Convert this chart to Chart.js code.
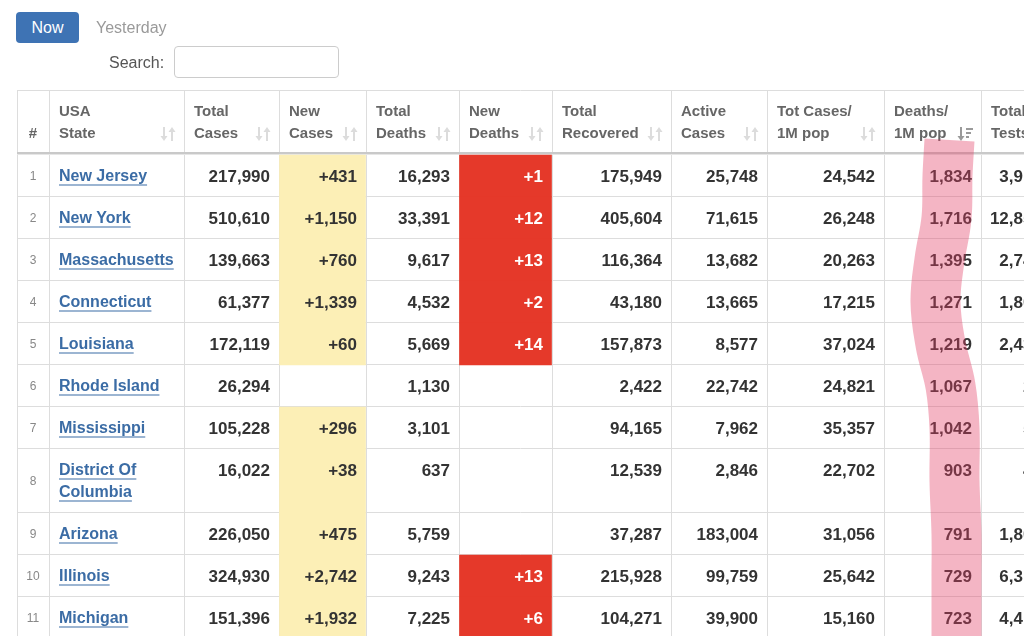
<!DOCTYPE html>
<html>
<head>
<meta charset="utf-8">
<script src="https://cdn.jsdelivr.net/npm/chart.js@4.4.1/dist/chart.umd.min.js"></script>
<style>
  body { margin: 0; background: #fff; font-family: "Liberation Sans", Arial, sans-serif; overflow: hidden; }
  #chart { position: absolute; left: 0; top: 0; }
  .now { position: absolute; left: 16px; top: 12px; width: 63px; height: 31px; line-height: 31px; background: #3e73b4; color: #fff; border-radius: 4px; font-size: 16px; text-align: center; }
  .yesterday { position: absolute; left: 96px; top: 12px; line-height: 31px; color: #9a9a9a; font-size: 16px; }
  .search { position: absolute; left: 109px; top: 47px; line-height: 31px; color: #555; font-size: 16px; }
  .box { position: absolute; left: 174px; top: 46px; width: 163px; height: 30px; border: 1px solid #ccc; border-radius: 4px; }
</style>
</head>
<body>
<canvas id="chart" width="1024" height="636"></canvas>
<div class="now">Now</div>
<div class="yesterday">Yesterday</div>
<div class="search">Search:</div>
<div class="box"></div>
<script>
// table data
const headers = [['#'], ['USA', 'State'], ['Total', 'Cases'], ['New', 'Cases'], ['Total', 'Deaths'], ['New', 'Deaths'],
  ['Total', 'Recovered'], ['Active', 'Cases'], ['Tot Cases/', '1M pop'], ['Deaths/', '1M pop'], ['Total', 'Tests']];
const rank = [1, 2, 3, 4, 5, 6, 7, 8, 9, 10, 11];
const states = ['New Jersey', 'New York', 'Massachusetts', 'Connecticut', 'Louisiana', 'Rhode Island',
  'Mississippi', 'District Of Columbia', 'Arizona', 'Illinois', 'Michigan'];
const totalCases = [217990, 510610, 139663, 61377, 172119, 26294, 105228, 16022, 226050, 324930, 151396];
const newCases = [431, 1150, 760, 1339, 60, null, 296, 38, 475, 2742, 1932];
const totalDeaths = [16293, 33391, 9617, 4532, 5669, 1130, 3101, 637, 5759, 9243, 7225];
const newDeaths = [1, 12, 13, 2, 14, null, null, null, null, 13, 6];
const totalRecovered = [175949, 405604, 116364, 43180, 157873, 2422, 94165, 12539, 37287, 215928, 104271];
const activeCases = [25748, 71615, 13682, 13665, 8577, 22742, 7962, 2846, 183004, 99759, 39900];
const casesPerMillion = [24542, 26248, 20263, 17215, 37024, 24821, 35357, 22702, 31056, 25642, 15160];
const deathsPerMillion = [1834, 1716, 1395, 1271, 1219, 1067, 1042, 903, 791, 729, 723];
// last column is cut off by the screen edge, only the first digits are readable
const totalTests = [3912437, 12857519, 2740106, 1803395, 2436927, 28457, 59470, 47820, 1803221, 6312854, 4418090];

// layout
const W = 1024, H = 636;
const colEdges = [17, 49, 184, 279, 366, 459, 552, 671, 767, 884, 981, 1084];
const tableTop = 90, headerBottom = 152, bodyTop = 155;
const rowBase = 42, lineStep = 22;
const yellow = '#fcefb6', red = '#e5392a';
// hand drawn marker stroke along the sorted column (offset from column centre per row)
const markCol = 9;
const markDrift = [15, 14, 7, 3, 8, 18, 22, 22, 24, 24, 24];

const columns = [
  { values: rank, kind: 'rank' },
  { values: states, kind: 'state' },
  { values: totalCases },
  { values: newCases, plus: true, fill: yellow },
  { values: totalDeaths },
  { values: newDeaths, plus: true, fill: red, color: '#fff' },
  { values: totalRecovered },
  { values: activeCases },
  { values: casesPerMillion },
  { values: deathsPerMillion },
  { values: totalTests }
];

const numFont = 'bold 17px "Liberation Sans", Arial, sans-serif';
const stateFont = 'bold 16px "Liberation Sans", Arial, sans-serif';
const headFont = 'bold 15px "Liberation Sans", Arial, sans-serif';
const rankFont = '12px "Liberation Sans", Arial, sans-serif';

// wrap state names to the column width -> row heights
const measure = document.createElement('canvas').getContext('2d');
measure.font = stateFont;
const stateLines = states.map(s => {
  const avail = colEdges[2] - colEdges[1] - 12;
  const words = s.split(' ');
  const lines = [];
  let cur = '';
  words.forEach(w => {
    const t = cur ? cur + ' ' + w : w;
    if (cur && measure.measureText(t).width > avail) { lines.push(cur); cur = w; } else cur = t;
  });
  lines.push(cur);
  return lines;
});
const rowTop = [];
const rowBottom = [];
let yy = bodyTop;
stateLines.forEach(l => {
  rowTop.push(yy);
  yy += rowBase + lineStep * (l.length - 1);
  rowBottom.push(yy);
});

const colCenter = j => (colEdges[j] + colEdges[j + 1]) / 2;
const colWidth = j => colEdges[j + 1] - colEdges[j];

function cellBars(j) {
  const c = columns[j];
  return c.values.map((v, i) => v == null ? null : { x: colCenter(j), y: [rowTop[i], rowBottom[i]] }).filter(d => d);
}

const markPoints = [{ x: colCenter(markCol) + 17, y: headerBottom - 12 }];
rank.forEach((r, i) => {
  markPoints.push({ x: colCenter(markCol) + markDrift[i], y: (rowTop[i] + rowBottom[i]) / 2 });
});
markPoints.push({ x: colCenter(markCol) + markDrift[markDrift.length - 1], y: H + 30 });

const tablePlugin = {
  id: 'tablePlugin',
  beforeDatasetsDraw(chart) {
    const ctx = chart.ctx;
    const xs = chart.scales.x, ys = chart.scales.y;
    ctx.save();
    ctx.strokeStyle = '#dddddd';
    ctx.lineWidth = 1;
    // outer top border
    ctx.beginPath();
    ctx.moveTo(xs.getPixelForValue(colEdges[0]), ys.getPixelForValue(tableTop) + 0.5);
    ctx.lineTo(xs.getPixelForValue(W), ys.getPixelForValue(tableTop) + 0.5);
    ctx.stroke();
    // vertical borders
    colEdges.forEach(e => {
      const x = Math.round(xs.getPixelForValue(e)) + 0.5;
      ctx.beginPath();
      ctx.moveTo(x, ys.getPixelForValue(tableTop));
      ctx.lineTo(x, ys.getPixelForValue(H));
      ctx.stroke();
    });
    // row borders
    rowBottom.forEach(b => {
      const y = Math.round(ys.getPixelForValue(b)) - 0.5;
      ctx.beginPath();
      ctx.moveTo(xs.getPixelForValue(colEdges[0]), y);
      ctx.lineTo(xs.getPixelForValue(W), y);
      ctx.stroke();
    });
    // header bottom rule
    const hx = xs.getPixelForValue(colEdges[0]);
    ctx.fillStyle = '#c9c9c9';
    ctx.fillRect(hx, ys.getPixelForValue(headerBottom), W - hx, 2);
    ctx.fillStyle = '#e6e6e6';
    ctx.fillRect(hx, ys.getPixelForValue(headerBottom + 2), W - hx, 1);
    ctx.restore();
  },
  beforeDatasetDraw(chart, args) {
    if (args.meta.type !== 'line') return;
    const ctx = chart.ctx;
    const xs = chart.scales.x, ys = chart.scales.y;
    ctx.save();
    ctx.textBaseline = 'middle';
    // headers
    ctx.font = headFont;
    ctx.fillStyle = '#666';
    headers.forEach((h, j) => {
      h.forEach((t, k) => {
        const line = k + (2 - h.length);
        const y = ys.getPixelForValue(tableTop + 22 + line * lineStep);
        if (j === 0) {
          ctx.textAlign = 'center';
          ctx.fillText(t, xs.getPixelForValue(colCenter(0)), y);
        } else {
          ctx.textAlign = 'left';
          ctx.fillText(t, xs.getPixelForValue(colEdges[j] + 10), y);
        }
      });
      if (j > 0) drawSortIcon(ctx, xs.getPixelForValue(colEdges[j + 1] - 16), ys.getPixelForValue(tableTop + 44), j === markCol);
    });
    // body cells
    columns.forEach((c, j) => {
      c.values.forEach((v, i) => {
        if (v == null) return;
        const yFirst = ys.getPixelForValue(rowTop[i] + 22);
        if (c.kind === 'rank') {
          ctx.font = rankFont;
          ctx.fillStyle = '#888';
          ctx.textAlign = 'center';
          ctx.fillText(String(v), xs.getPixelForValue(colCenter(j)), ys.getPixelForValue((rowTop[i] + rowBottom[i]) / 2 + 1));
        } else if (c.kind === 'state') {
          ctx.font = stateFont;
          ctx.fillStyle = '#3b6ca5';
          ctx.strokeStyle = '#3b6ca5';
          ctx.lineWidth = 1.2;
          ctx.textAlign = 'left';
          stateLines[i].forEach((t, k) => {
            const x = xs.getPixelForValue(colEdges[j] + 10);
            const y = yFirst + k * lineStep;
            ctx.fillText(t, x, y);
            const w = ctx.measureText(t).width;
            ctx.beginPath();
            ctx.moveTo(x, y + 8);
            ctx.lineTo(x + w, y + 8);
            ctx.stroke();
          });
        } else {
          ctx.font = numFont;
          ctx.fillStyle = c.color || '#333';
          ctx.textAlign = 'right';
          const txt = (c.plus ? '+' : '') + v.toLocaleString('en-US');
          ctx.fillText(txt, xs.getPixelForValue(colEdges[j + 1] - 9), yFirst);
        }
      });
    });
    ctx.restore();
  }
};

function drawSortIcon(ctx, cx, cy, active) {
  ctx.save();
  ctx.lineWidth = 2;
  ctx.strokeStyle = active ? '#9a9a9a' : '#dcdcdc';
  ctx.fillStyle = ctx.strokeStyle;
  // down arrow
  ctx.beginPath();
  ctx.moveTo(cx - 4, cy - 7);
  ctx.lineTo(cx - 4, cy + 3);
  ctx.stroke();
  ctx.beginPath();
  ctx.moveTo(cx - 7.5, cy + 2);
  ctx.lineTo(cx - 0.5, cy + 2);
  ctx.lineTo(cx - 4, cy + 7);
  ctx.closePath();
  ctx.fill();
  if (active) {
    ctx.fillRect(cx + 1, cy - 6, 7, 2);
    ctx.fillRect(cx + 1, cy - 2, 5, 2);
    ctx.fillRect(cx + 1, cy + 2, 3, 2);
  } else {
    ctx.beginPath();
    ctx.moveTo(cx + 4, cy + 7);
    ctx.lineTo(cx + 4, cy - 3);
    ctx.stroke();
    ctx.beginPath();
    ctx.moveTo(cx + 0.5, cy - 2);
    ctx.lineTo(cx + 7.5, cy - 2);
    ctx.lineTo(cx + 4, cy - 7);
    ctx.closePath();
    ctx.fill();
  }
  ctx.restore();
}

const ctx = document.getElementById('chart').getContext('2d');
const chart = new Chart(ctx, {
  type: 'bar',
  data: {
    datasets: [
      {
        label: 'New Cases',
        data: cellBars(3),
        backgroundColor: yellow,
        barThickness: colWidth(3) - 1,
        grouped: false,
        order: 2
      },
      {
        label: 'New Deaths',
        data: cellBars(5),
        backgroundColor: red,
        barThickness: colWidth(5) - 1,
        grouped: false,
        order: 2
      },
      {
        type: 'line',
        label: 'marker',
        data: markPoints,
        borderColor: 'rgba(226, 60, 100, 0.38)',
        borderWidth: 50,
        borderCapStyle: 'butt',
        borderJoinStyle: 'round',
        tension: 0.4,
        pointRadius: 0,
        fill: false,
        order: 0
      }
    ]
  },
  options: {
    responsive: false,
    animation: false,
    events: [],
    layout: { padding: 0 },
    plugins: {
      legend: { display: false },
      tooltip: { enabled: false }
    },
    scales: {
      x: { type: 'linear', min: 0, max: W, offset: false, display: false },
      y: { type: 'linear', min: 0, max: H, reverse: true, display: false }
    }
  },
  plugins: [tablePlugin]
});
</script>
</body>
</html>
